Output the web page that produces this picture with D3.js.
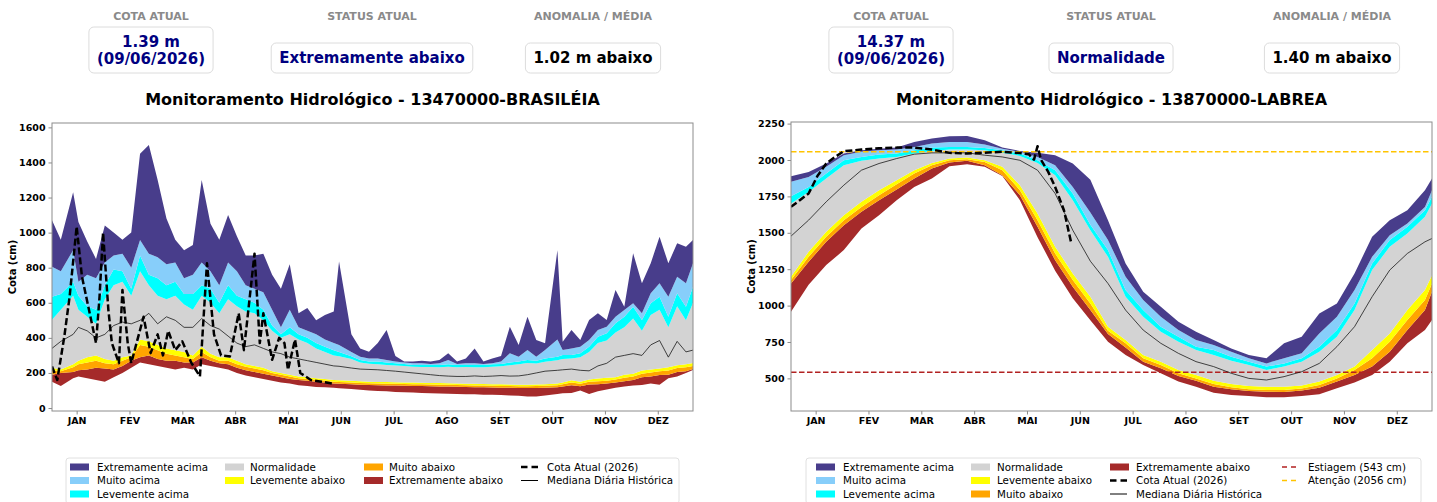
<!DOCTYPE html>
<html>
<head>
<meta charset="utf-8">
<script src="https://cdn.jsdelivr.net/npm/d3@7"></script>
<style>
  body { margin: 0; background: #fff; }
  svg { font-family: "DejaVu Sans", sans-serif; display: block; }
</style>
</head>
<body>
<svg id="chart" width="1437" height="502"></svg>
<script>
// ---- common ----
const months = ["JAN", "FEV", "MAR", "ABR", "MAI", "JUN", "JUL", "AGO", "SET", "OUT", "NOV", "DEZ"];
const monthTickDays = [15, 45, 75, 105, 135, 165, 195, 225, 255, 285, 315, 345];

// bands from bottom to top
const bandNames = ["Extremamente abaixo", "Muito abaixo", "Levemente abaixo", "Normalidade", "Levemente acima", "Muito acima", "Extremamente acima"];
const bandColors = ["#A52A2A", "#FFA500", "#FFFF00", "#D3D3D3", "#00FFFF", "#87CEFA", "#483D8B"];

// ---- 13470000 BRASILÉIA ----
const braDays = [1, 6, 13, 16, 21, 26, 31, 36, 41, 46, 51, 56, 61, 66, 71, 76, 81, 86, 91, 96, 101, 106, 111, 116, 121, 126, 131, 136, 141, 146, 151, 156, 161, 164, 171, 176,
  181, 186, 191, 196, 201, 206, 211, 216, 221, 226, 231, 236, 241, 246, 251, 256, 261, 266, 271, 276, 281, 288, 291, 296, 301, 306, 311, 316, 321, 326, 331, 336, 341, 346, 351, 356, 361, 365];
const braMax = [1070, 960, 1230, 1060, 950, 850, 1040, 1000, 960, 1000, 1450, 1500, 1300, 1080, 960, 900, 930, 1300, 1050, 960, 1100, 980, 870, 870, 880, 760, 680, 820, 540, 570, 500, 530, 550, 835, 420, 340,
  321, 370, 445, 297, 265, 265, 270, 265, 274, 312, 265, 283, 340, 265, 283, 297, 464, 360, 521, 388, 369, 900, 378, 445, 388, 502, 540, 502, 673, 578, 882, 711, 825, 977, 825, 939, 920, 958];
const braHi3 = [806, 780, 900, 720, 760, 740, 830, 870, 880, 800, 958, 880, 860, 820, 830, 740, 760, 830, 780, 700, 830, 780, 700, 680, 660, 560, 460, 560, 460, 440, 420, 390, 370, 360, 320, 293,
  283, 283, 274, 265, 259, 255, 255, 251, 255, 274, 251, 255, 255, 251, 255, 265, 312, 293, 331, 293, 331, 390, 331, 340, 350, 388, 445, 464, 521, 559, 597, 540, 654, 711, 635, 749, 711, 825];
const braHi2 = [635, 650, 720, 640, 580, 560, 700, 790, 780, 680, 870, 760, 740, 700, 720, 650, 650, 700, 680, 600, 700, 640, 620, 600, 560, 470, 420, 460, 420, 400, 370, 350, 330, 320, 295, 274,
  265, 265, 259, 255, 251, 245, 245, 245, 245, 249, 245, 245, 245, 245, 249, 251, 259, 265, 274, 270, 283, 293, 302, 302, 312, 350, 407, 426, 483, 521, 578, 502, 597, 635, 521, 654, 578, 692];
const braHi1 = [503, 560, 640, 560, 520, 480, 620, 700, 720, 640, 780, 700, 640, 620, 640, 590, 560, 640, 600, 540, 620, 580, 550, 540, 500, 440, 400, 420, 390, 370, 340, 320, 300, 295, 280, 260,
  252, 250, 245, 242, 240, 235, 234, 234, 233, 236, 233, 234, 233, 233, 236, 238, 244, 250, 256, 254, 264, 272, 280, 282, 290, 320, 370, 385, 430, 460, 510, 440, 530, 560, 460, 580, 500, 600];
const braLo1 = [230, 220, 250, 270, 290, 300, 280, 270, 290, 300, 390, 380, 360, 340, 330, 320, 300, 350, 310, 290, 290, 270, 250, 240, 230, 210, 200, 190, 180, 175, 170, 165, 160, 158, 155, 152,
  150, 149, 148, 147, 146, 145, 144, 143, 142, 141, 140, 139, 138, 137, 136, 135, 134, 133, 133, 134, 136, 140, 146, 158, 150, 163, 168, 172, 176, 190, 196, 214, 220, 226, 232, 244, 250, 256];
const braLo2 = [215, 210, 232, 250, 260, 270, 255, 250, 270, 290, 360, 350, 330, 310, 300, 290, 280, 320, 290, 270, 270, 250, 235, 225, 215, 200, 190, 180, 170, 165, 160, 155, 150, 148, 145, 142,
  141, 140, 139, 138, 137, 136, 135, 134, 133, 132, 131, 130, 129, 128, 127, 126, 125, 124, 124, 125, 127, 130, 135, 145, 138, 150, 152, 155, 162, 172, 180, 196, 202, 210, 214, 228, 232, 240];
const braLo3 = [190, 200, 205, 215, 220, 230, 225, 220, 240, 270, 290, 300, 280, 270, 270, 260, 260, 290, 270, 255, 250, 230, 215, 205, 195, 185, 175, 165, 160, 155, 150, 145, 140, 138, 135, 132,
  131, 130, 129, 128, 127, 126, 125, 124, 123, 122, 121, 120, 119, 118, 117, 116, 115, 114, 114, 114, 116, 118, 122, 130, 124, 134, 136, 140, 146, 152, 160, 175, 180, 188, 190, 205, 210, 222];
const braMin = [150, 125, 170, 180, 170, 160, 150, 175, 200, 230, 260, 250, 240, 230, 220, 230, 220, 250, 240, 230, 220, 200, 185, 175, 165, 155, 145, 140, 130, 125, 120, 118, 115, 112, 108, 104,
  100, 97, 95, 92, 90, 88, 86, 84, 83, 82, 80, 79, 78, 76, 75, 74, 72, 70, 66, 65, 72, 80, 84, 86, 100, 80, 96, 105, 115, 122, 128, 131, 140, 132, 170, 180, 200, 217];
const braMedian = [340, 380, 420, 460, 440, 400, 420, 470, 490, 480, 500, 540, 480, 520, 500, 460, 460, 510, 470, 450, 410, 370, 350, 360, 340, 320, 310, 290, 280, 270, 260, 250, 240, 238, 228, 222,
  220, 218, 214, 210, 205, 200, 195, 190, 185, 182, 180, 180, 183, 180, 182, 185, 182, 183, 190, 200, 210, 215, 218, 222, 215, 212, 240, 255, 290, 300, 310, 300, 360, 385, 290, 380, 320, 330];
const braCurDays = [1, 4, 8, 11, 15, 18, 22, 26, 28, 30, 33, 35, 39, 41, 44, 46, 49, 53, 57, 61, 64, 67, 71, 75, 80, 85, 89, 93, 97, 102,
  107, 110, 116, 119, 121, 126, 130, 133, 135, 139, 142, 148, 154, 160];
const braCur = [237, 160, 408, 635, 1034, 750, 560, 370, 635, 1000, 560, 370, 256, 673, 370, 256, 370, 520, 313, 420, 300, 440, 330, 380, 260, 180, 825, 420, 300, 294,
  540, 330, 880, 370, 540, 275, 400, 370, 218, 390, 200, 160, 150, 139];

// ---- 13870000 LABREA ----
const labDays = [1, 11, 21, 31, 41, 51, 61, 71, 81, 91, 101, 111, 121, 131, 141, 151, 161, 171,
  181, 191, 201, 211, 221, 231, 241, 251, 261, 271, 281, 291, 301, 311, 321, 331, 341, 351, 361, 365];
const labMax = [1889, 1918, 1976, 2044, 2067, 2078, 2085, 2124, 2147, 2163, 2165, 2136, 2085, 2062, 2049, 2033, 1976, 1865,
  1587, 1289, 1095, 992, 889, 821, 763, 706, 661, 638, 741, 786, 946, 1015, 1221, 1472, 1587, 1655, 1793, 1873];
const labHi3 = [1850, 1884, 1953, 2033, 2056, 2067, 2072, 2090, 2113, 2124, 2124, 2106, 2078, 2056, 2021, 1964, 1815, 1640,
  1450, 1198, 1038, 924, 832, 763, 729, 683, 638, 603, 638, 672, 809, 924, 1107, 1335, 1484, 1564, 1678, 1793];
const labHi2 = [1751, 1815, 1907, 1998, 2021, 2037, 2044, 2067, 2085, 2090, 2090, 2083, 2067, 2044, 1998, 1930, 1770, 1555,
  1381, 1107, 969, 855, 786, 718, 695, 649, 615, 581, 603, 638, 718, 832, 1015, 1289, 1450, 1541, 1655, 1747];
const labHi1 = [1701, 1781, 1873, 1964, 1994, 2010, 2021, 2044, 2062, 2072, 2072, 2067, 2049, 2028, 1980, 1896, 1724, 1518,
  1335, 1061, 924, 821, 752, 695, 661, 622, 592, 558, 581, 615, 683, 786, 969, 1244, 1404, 1495, 1610, 1701];
const labLo1 = [1198, 1370, 1507, 1621, 1713, 1793, 1861, 1930, 1980, 2010, 2017, 1998, 1953, 1827, 1633, 1404, 1221, 1061,
  855, 763, 661, 615, 558, 523, 484, 462, 448, 443, 443, 452, 478, 523, 581, 695, 809, 969, 1107, 1209];
const labLo2 = [1175, 1335, 1472, 1587, 1678, 1758, 1834, 1907, 1964, 1998, 2005, 1987, 1930, 1793, 1587, 1358, 1175, 1015,
  828, 741, 638, 592, 535, 500, 462, 439, 425, 420, 420, 430, 455, 500, 558, 638, 752, 901, 1038, 1152];
const labLo3 = [1152, 1301, 1438, 1552, 1644, 1724, 1797, 1873, 1941, 1982, 1994, 1964, 1896, 1758, 1541, 1312, 1129, 969,
  805, 713, 615, 569, 516, 484, 443, 425, 414, 409, 407, 416, 436, 478, 523, 581, 683, 832, 969, 1095];
const labMin = [958, 1143, 1278, 1381, 1530, 1621, 1724, 1815, 1873, 1957, 1971, 1953, 1890, 1724, 1470, 1240, 1050, 900,
  752, 661, 592, 535, 478, 443, 402, 386, 379, 370, 370, 379, 391, 432, 471, 523, 615, 741, 832, 901];
const labMedian = [1477, 1587, 1713, 1827, 1930, 1976, 2010, 2040, 2049, 2049, 2049, 2033, 2021, 1998, 1930, 1770, 1518, 1305,
  1152, 969, 832, 741, 672, 615, 581, 535, 500, 489, 512, 546, 603, 718, 855, 1061, 1244, 1358, 1438, 1461];
const labCurDays = [1, 6, 11, 16, 21, 26, 31, 41, 51, 61, 71, 81, 91, 101, 111, 121, 131, 136, 139, 141, 143, 147, 151, 156, 160];
const labCur = [1678, 1724, 1770, 1890, 1976, 2021, 2060, 2072, 2080, 2085, 2085, 2072, 2049, 2044, 2050, 2056, 2048, 2040, 2003, 2095, 2000, 1920, 1815, 1655, 1437];
const labEstiagem = 543;
const labAtencao = 2056;

const svg = d3.select("#chart");

function drawPanel(p) {
  const g = svg.append("g");
  const x = d3.scaleLinear().domain([1, 365]).range([p.left, p.right]);
  const y = d3.scaleLinear().domain(p.yDomain).range([p.bottom, p.top]);

  // cards on top
  p.cards.forEach(c => {
    g.append("text").attr("x", c.cx).attr("y", 20)
      .attr("text-anchor", "middle").attr("font-size", 11).attr("font-weight", "bold")
      .attr("fill", "#8a8a8a").text(c.label);
    const box = g.append("rect").attr("rx", 5).attr("fill", "#fff")
      .attr("stroke", "#dcdcdc").attr("stroke-width", 1);
    const y0 = c.lines.length > 1 ? 27 : 43;
    let w = 0;
    c.lines.forEach((s, i) => {
      const t = g.append("text").attr("x", c.cx).attr("y", y0 + 20 + i * 17)
        .attr("text-anchor", "middle").attr("font-size", 15).attr("font-weight", "bold")
        .attr("fill", c.color).text(s);
      w = Math.max(w, t.node().getComputedTextLength());
    });
    box.attr("x", c.cx - w / 2 - 8).attr("y", y0)
      .attr("width", w + 16).attr("height", 73 - y0);
  });

  g.append("text").attr("x", (p.left + p.right) / 2).attr("y", 105)
    .attr("text-anchor", "middle").attr("font-size", 16).attr("font-weight", "bold")
    .text(p.title);

  const clipId = "clip" + p.id;
  svg.append("clipPath").attr("id", clipId).append("rect")
    .attr("x", p.left).attr("y", p.top).attr("width", p.right - p.left).attr("height", p.bottom - p.top);
  const plot = g.append("g").attr("clip-path", `url(#${clipId})`);

  // percentile bands
  const rows = p.days.map((d, i) => ({ d, v: p.bounds.map(b => b[i]) }));
  bandColors.forEach((col, k) => {
    plot.append("path").datum(rows)
      .attr("fill", col)
      .attr("d", d3.area().x(r => x(r.d)).y0(r => y(r.v[k])).y1(r => y(r.v[k + 1])));
  });

  (p.thresholds || []).forEach(t => {
    plot.append("line").attr("x1", p.left).attr("x2", p.right)
      .attr("y1", y(t.value)).attr("y2", y(t.value))
      .attr("stroke", t.color).attr("stroke-width", 1.5).attr("stroke-dasharray", "5.5,2.5");
  });

  plot.append("path").datum(p.days.map((d, i) => [d, p.median[i]]))
    .attr("fill", "none").attr("stroke", "#111").attr("stroke-width", 0.9).attr("stroke-opacity", 0.85)
    .attr("d", d3.line().x(r => x(r[0])).y(r => y(r[1])));

  plot.append("path").datum(p.curDays.map((d, i) => [d, p.cur[i]]))
    .attr("fill", "none").attr("stroke", "#000").attr("stroke-width", 2.5)
    .attr("stroke-dasharray", "7,3").attr("stroke-linejoin", "round")
    .attr("d", d3.line().x(r => x(r[0])).y(r => y(r[1])));

  // frame + axes
  g.append("rect").attr("x", p.left).attr("y", p.top)
    .attr("width", p.right - p.left).attr("height", p.bottom - p.top)
    .attr("fill", "none").attr("stroke", "#8c8c8c").attr("stroke-width", 1);

  const ax = g.append("g").attr("transform", `translate(0,${p.bottom})`)
    .call(d3.axisBottom(x).tickValues(monthTickDays).tickFormat((d, i) => months[i]).tickSize(3.5).tickSizeOuter(0).tickPadding(3));
  const ay = g.append("g").attr("transform", `translate(${p.left},0)`)
    .call(d3.axisLeft(y).tickValues(p.yTicks).tickFormat(d3.format("d")).tickSize(3.5).tickSizeOuter(0).tickPadding(3));
  [ax, ay].forEach(a => {
    a.select(".domain").remove();
    a.selectAll("line").attr("stroke", "#8c8c8c");
    a.selectAll("text").attr("font-size", 9.5).attr("font-weight", "bold")
      .attr("font-family", "DejaVu Sans").attr("fill", "#000");
  });

  g.append("text").attr("transform", `translate(${p.left - 36},${(p.top + p.bottom) / 2}) rotate(-90)`)
    .attr("text-anchor", "middle").attr("font-size", 10).attr("font-weight", "bold").text("Cota (cm)");

  // legend
  g.append("rect").attr("x", p.legend.x).attr("y", 458).attr("width", p.legend.w).attr("height", 46)
    .attr("rx", 3).attr("fill", "#fff").attr("stroke", "#e0e0e0");
  p.legend.cols.forEach(col => {
    col.items.forEach((it, r) => {
      const cy = 467 + r * 13.5;
      if (it.type === "patch") {
        g.append("rect").attr("x", col.sx).attr("y", cy - 3.5).attr("width", 19).attr("height", 7)
          .attr("fill", it.color);
      } else {
        g.append("line").attr("x1", col.sx).attr("x2", col.sx + 17).attr("y1", cy).attr("y2", cy)
          .attr("stroke", it.color).attr("stroke-width", it.width)
          .attr("stroke-dasharray", it.dash || null);
      }
      g.append("text").attr("x", col.tx).attr("y", cy + 3.7).attr("font-size", 10.3)
        .attr("fill", "#000").text(it.label);
    });
  });
}

const patch = k => ({ type: "patch", color: bandColors[k], label: bandNames[k] });
const curItem = { type: "line", color: "#000", width: 2.5, dash: "6.5,4", label: "Cota Atual (2026)" };
const medItem = { type: "line", color: "#000", width: 1, label: "Mediana Diária Histórica" };

drawPanel({
  id: "bra",
  left: 52, right: 693, top: 123, bottom: 411,
  yDomain: [-17, 1625], yTicks: d3.range(0, 1601, 200),
  title: "Monitoramento Hidrológico - 13470000-BRASILÉIA",
  days: braDays,
  bounds: [braMin, braLo3, braLo2, braLo1, braHi1, braHi2, braHi3, braMax],
  median: braMedian, curDays: braCurDays, cur: braCur,
  cards: [
    { cx: 151, label: "COTA ATUAL", lines: ["1.39 m", "(09/06/2026)"], color: "#000080" },
    { cx: 372, label: "STATUS ATUAL", lines: ["Extremamente abaixo"], color: "#000080" },
    { cx: 593, label: "ANOMALIA / MÉDIA", lines: ["1.02 m abaixo"], color: "#000" }
  ],
  legend: {
    x: 66, w: 613,
    cols: [
      { sx: 70, tx: 97, items: [patch(6), patch(5), patch(4)] },
      { sx: 225, tx: 250, items: [patch(3), patch(2)] },
      { sx: 364, tx: 389, items: [patch(1), patch(0)] },
      { sx: 521, tx: 547, items: [curItem, medItem] }
    ]
  }
});

drawPanel({
  id: "lab",
  left: 791, right: 1432, top: 122, bottom: 411,
  yDomain: [276, 2261], yTicks: d3.range(500, 2251, 250),
  title: "Monitoramento Hidrológico - 13870000-LABREA",
  days: labDays,
  bounds: [labMin, labLo3, labLo2, labLo1, labHi1, labHi2, labHi3, labMax],
  median: labMedian, curDays: labCurDays, cur: labCur,
  thresholds: [
    { value: labEstiagem, color: "#B22222" },
    { value: labAtencao, color: "#FFC400" }
  ],
  cards: [
    { cx: 891, label: "COTA ATUAL", lines: ["14.37 m", "(09/06/2026)"], color: "#000080" },
    { cx: 1111, label: "STATUS ATUAL", lines: ["Normalidade"], color: "#000080" },
    { cx: 1332, label: "ANOMALIA / MÉDIA", lines: ["1.40 m abaixo"], color: "#000" }
  ],
  legend: {
    x: 806, w: 615,
    cols: [
      { sx: 816, tx: 843, items: [patch(6), patch(5), patch(4)] },
      { sx: 971, tx: 997, items: [patch(3), patch(2), patch(1)] },
      { sx: 1110, tx: 1136, items: [patch(0), curItem, medItem] },
      { sx: 1282, tx: 1308, items: [
        { type: "line", color: "#B22222", width: 1.5, dash: "5,4", label: "Estiagem (543 cm)" },
        { type: "line", color: "#FFC400", width: 1.5, dash: "5,4", label: "Atenção (2056 cm)" }
      ] }
    ]
  }
});
</script>
</body>
</html>
